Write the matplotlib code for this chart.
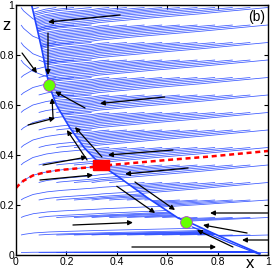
import numpy as np
import matplotlib
matplotlib.use("Agg")
import matplotlib.pyplot as plt

plt.rcParams['font.family'] = ['Liberation Sans', 'DejaVu Sans']

# separatrix (red dashed)
sep_x = [0.0, 0.01, 0.03, 0.067, 0.12, 0.175, 0.25, 0.306, 0.337, 0.373, 0.464, 0.6, 0.77, 1.0]
sep_z = [0.268, 0.279, 0.297, 0.318, 0.332, 0.34, 0.347, 0.352, 0.357, 0.36, 0.368, 0.38, 0.394, 0.416]

# slow manifold (thick blue curve)
man_x = [0.062, 0.085, 0.103, 0.131, 0.16, 0.214, 0.27, 0.337, 0.413, 0.52, 0.643, 0.70, 0.83, 0.968]
man_z = [1.0, 0.9, 0.82, 0.68, 0.6, 0.508, 0.43, 0.36, 0.308, 0.23, 0.148, 0.125, 0.065, 0.005]

# second trajectory sliding into the lower stable point
tail_x = [0.70, 0.85, 0.965]
tail_z = [0.112, 0.048, 0.003]

# fixed points
stable_x = [0.131, 0.675]
stable_z = [0.68, 0.132]
saddle_x = [0.337]
saddle_z = [0.36]

# starting grid of the trajectories
z_levels = [0.99, 0.92, 0.85, 0.78, 0.71, 0.64, 0.57, 0.50, 0.43, 0.36, 0.29, 0.22, 0.15, 0.08, 0.01]
x_starts = [0.02, 0.09, 0.16, 0.23, 0.30, 0.37, 0.44, 0.51, 0.58, 0.65, 0.72, 0.79, 0.86, 0.93, 1.0]

# black arrows: tail x, tail z, head x, head z
arr_x0 = [0.413, 0.127, 0.024, 0.274, 0.59, 0.048, 0.147, 0.282, 0.341, 0.107, 0.095, 0.623, 0.683, 0.472, 0.40, 0.226, 0.46, 1.0, 1.0, 0.861, 0.917]
arr_z0 = [0.96, 0.888, 0.808, 0.588, 0.632, 0.52, 0.548, 0.38, 0.392, 0.36, 0.30, 0.42, 0.348, 0.292, 0.275, 0.12, 0.032, 0.168, 0.06, 0.032, 0.088]
arr_x1 = [0.127, 0.127, 0.083, 0.155, 0.333, 0.155, 0.143, 0.202, 0.234, 0.282, 0.306, 0.365, 0.433, 0.631, 0.552, 0.464, 0.794, 0.77, 0.897, 0.718, 0.742]
arr_z1 = [0.932, 0.72, 0.728, 0.654, 0.606, 0.548, 0.628, 0.50, 0.512, 0.392, 0.32, 0.40, 0.324, 0.18, 0.168, 0.13, 0.032, 0.168, 0.06, 0.10, 0.12]

blue = '#2244ff'


def manifold_x(z):
    return np.interp(z, man_z[::-1], man_x[::-1])


def sep(x):
    return np.interp(x, sep_x, sep_z)


fig = plt.figure(figsize=(2.73, 2.72), dpi=100)
ax = fig.add_axes([0.0586, 0.0625, 0.9231, 0.9191])

# trajectories: follow the fibre shape of the separatrix towards the manifold
for z0 in z_levels:
    for x0 in x_starts:
        mx = manifold_x(z0)
        if abs(x0 - mx) < 0.01:
            continue
        w = min(1.0, z0 / 0.3)
        if x0 > mx:
            xs = np.linspace(x0, 0.0, 400)
        else:
            xs = np.linspace(x0, 1.0, 400)
            if z0 > 0.75:
                # above the upper point the left side flows downwards
                w = -1.5
        zs = z0 + w * (sep(xs) - sep(x0))
        side = np.sign(xs - manifold_x(zs))
        hit = np.nonzero(side != side[0])[0]
        if len(hit):
            k = hit[0] + 1
            xs, zs = xs[:k], zs[:k]
        ax.plot(xs, zs, color=blue, lw=0.55, alpha=0.9, solid_capstyle='butt')

ax.plot(man_x, man_z, color=blue, lw=1.2)
ax.plot(tail_x, tail_z, color=blue, lw=0.9)
ax.plot(sep_x, sep_z, color='red', lw=1.8, dashes=(2.0, 1.5))

for i in range(len(arr_x0)):
    ax.annotate('', xy=(arr_x1[i], arr_z1[i]), xytext=(arr_x0[i], arr_z0[i]),
                arrowprops=dict(arrowstyle='-|>', color='k', lw=0.9,
                                mutation_scale=7, shrinkA=0, shrinkB=0))

ax.plot(stable_x, stable_z, 'o', ms=8.5, mfc='#66ff00', mec='#b040d0', mew=0.6, zorder=5)
rect = [(-1, -0.55), (1, -0.55), (1, 0.55), (-1, 0.55), (-1, -0.55)]
ax.plot(saddle_x, saddle_z, marker=rect, ms=12, color='red', ls='none', zorder=5)

ax.set_xlim(0, 1)
ax.set_ylim(0, 1)
ticks = [0, 0.2, 0.4, 0.6, 0.8, 1]
labels = ['0', '0.2', '0.4', '0.6', '0.8', '1']
ax.set_xticks(ticks)
ax.set_xticklabels(labels)
ax.set_yticks(ticks)
ax.set_yticklabels(labels)
ax.tick_params(direction='in', top=True, right=True, length=3, width=0.8,
               labelsize=7.5, pad=1.5)
for s in ax.spines.values():
    s.set_linewidth(1.0)

ax.text(-0.036, 0.92, 'z', fontsize=12, ha='center', va='center', clip_on=False)
ax.text(0.93, -0.036, 'x', fontsize=12, ha='center', va='center', clip_on=False)
ax.text(0.955, 0.952, '(b)', fontsize=10, ha='center', va='center')

fig.savefig('out.png', dpi=100)
